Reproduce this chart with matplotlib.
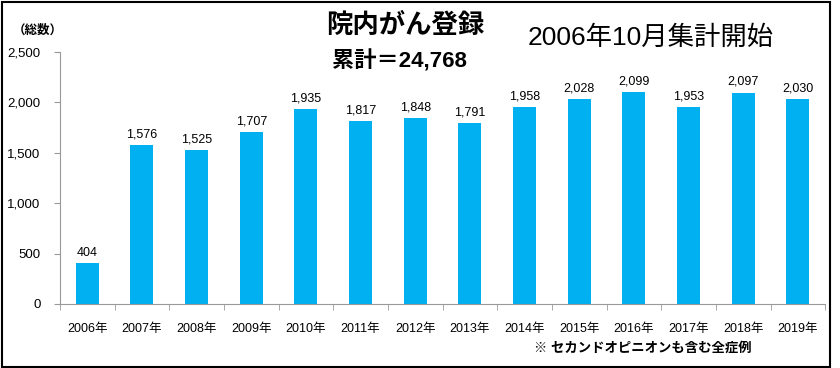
import numpy as np
import matplotlib
matplotlib.use('Agg')
import matplotlib.pyplot as plt
from matplotlib.patches import Rectangle

plt.rcParams['font.family'] = ['Liberation Sans', 'Noto Sans CJK JP', 'DejaVu Sans']

years = ['2006年', '2007年', '2008年', '2009年', '2010年', '2011年', '2012年',
         '2013年', '2014年', '2015年', '2016年', '2017年', '2018年', '2019年']
counts = [404, 1576, 1525, 1707, 1935, 1817, 1848, 1791, 1958, 2028, 2099, 1953, 2097, 2030]
yticks = [0, 500, 1000, 1500, 2000, 2500]

fig = plt.figure(figsize=(8.4, 3.68), dpi=100)
ax = fig.add_axes([0.0714, 0.174, 0.911, 0.685])

x = np.arange(len(years))
ax.bar(x, counts, width=0.42, color='#00B0F0')
for xi, v in zip(x, counts):
    ax.text(xi, v + 45, f'{v:,}', ha='center', va='bottom', fontsize=9)

ax.set_xlim(-0.5, len(years) - 0.5)
ax.set_ylim(0, 2500)
ax.set_yticks(yticks)
ax.set_yticklabels([f'{t:,}' for t in yticks], fontsize=9.5)
ax.set_xticks(x)
ax.set_xticklabels(years, fontsize=9)
ax.set_xticks(np.arange(-0.5, len(years)), minor=True)
ax.tick_params(axis='x', which='major', length=0, pad=14)
ax.tick_params(axis='x', which='minor', length=4, color='#999999')
ax.tick_params(axis='y', length=4, color='#999999', pad=10)
for s in ['top', 'right']:
    ax.spines[s].set_visible(False)
for s in ['left', 'bottom']:
    ax.spines[s].set_color('#999999')

fig.text(0.015, 0.918, '（総数）', fontsize=9, fontweight='bold', va='center')
fig.text(0.483, 0.932, '院内がん登録', fontsize=19, fontweight='bold', ha='center', va='center')
fig.text(0.476, 0.832, '累計＝24,768', fontsize=16, fontweight='bold', ha='center', va='center')
fig.text(0.775, 0.897, '2006年10月集計開始', fontsize=19, ha='center', va='center')
fig.text(0.765, 0.053, '※ セカンドオピニオンも含む全症例', fontsize=9.6, fontweight='bold', ha='center', va='center')

fig.patches.append(Rectangle((0.002, 0.004), 0.986, 0.99, transform=fig.transFigure,
                             fill=False, edgecolor='black', linewidth=1.5))

fig.savefig('out.png', dpi=100)
